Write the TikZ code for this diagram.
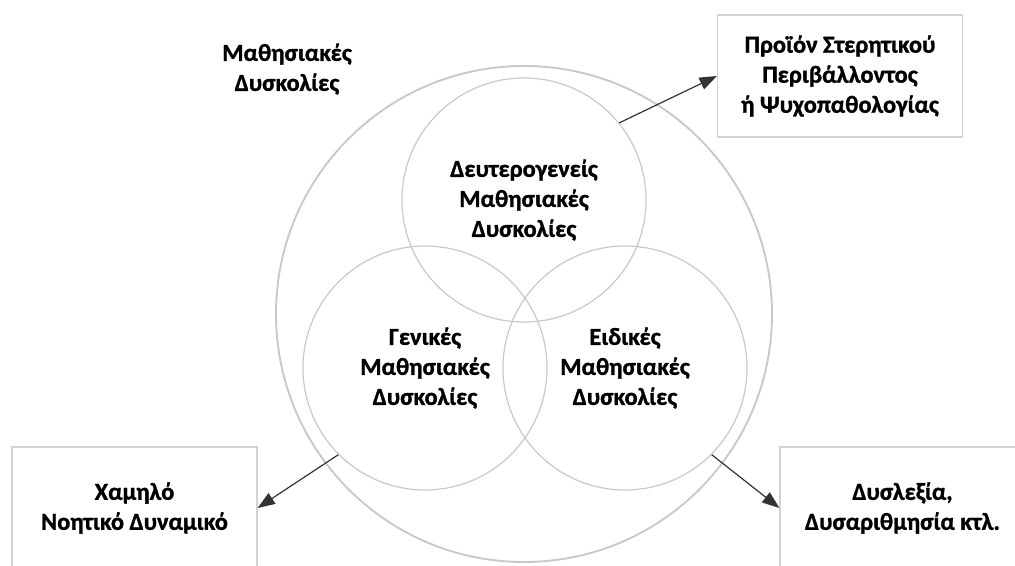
\documentclass[tikz,border=0pt]{standalone}
\usepackage{fontspec}
\setmainfont{Carlito}
\newfontfamily\lblfont{Carlito}[UprightFont={Carlito Bold},FakeBold=1.2]
\usetikzlibrary{arrows.meta}
\definecolor{ringc}{HTML}{C6C9CC}
\definecolor{innerc}{HTML}{C9C9C9}
\definecolor{boxc}{HTML}{D2D2D2}
\definecolor{arrc}{HTML}{333333}
\begin{document}
\begin{tikzpicture}[x=0.75pt,y=-0.75pt,
  lbl/.style={font=\lblfont\fontsize{18.3}{22.5}\selectfont, align=center, text=black},
  ring/.style={circle, draw=innerc, line width=0.9pt, minimum size=183pt, inner sep=0pt, lbl},
  outerring/.style={circle, draw=ringc, line width=1.4pt, minimum size=372pt, inner sep=0pt},
  infobox/.style={rectangle, draw=boxc, line width=0.9pt, fill=white, minimum width=183.75pt, minimum height=91.5pt, inner sep=0pt, lbl},
  conn/.style={draw=arrc, line width=0.9pt, -{Triangle[length=13pt,width=9.5pt]}}
]
\useasboundingbox (0,0) rectangle (1015,565);
\clip (0,0) rectangle (1015,565);
\fill[white] (0,0) rectangle (1015,565);

\node[outerring] (outer) at (524,314) {};
\node[lbl] (title) at (287,69) {Μαθησιακές\\Δυσκολίες};

\node[ring] (topc) at (524,200) {Δευτερογενείς\\Μαθησιακές\\Δυσκολίες};
\node[ring] (leftc) at (425,368) {Γενικές\\Μαθησιακές\\Δυσκολίες};
\node[ring] (rightc) at (625,368) {Ειδικές\\Μαθησιακές\\Δυσκολίες};

\node[infobox] (prod) at (840,76) {Προϊόν Στερητικού\\Περιβάλλοντος\\ή Ψυχοπαθολογίας};
\node[infobox] (low) at (134.5,508) {Χαμηλό\\Νοητικό Δυναμικό};
\node[infobox] (dys) at (902.5,508) {Δυσλεξία,\\Δυσαριθμησία κτλ.};

\draw[conn] (topc.39) -- (prod.west);
\draw[conn] (leftc.225) -- (low.east);
\draw[conn] (rightc.-45) -- (dys.west);
\end{tikzpicture}
\end{document}
